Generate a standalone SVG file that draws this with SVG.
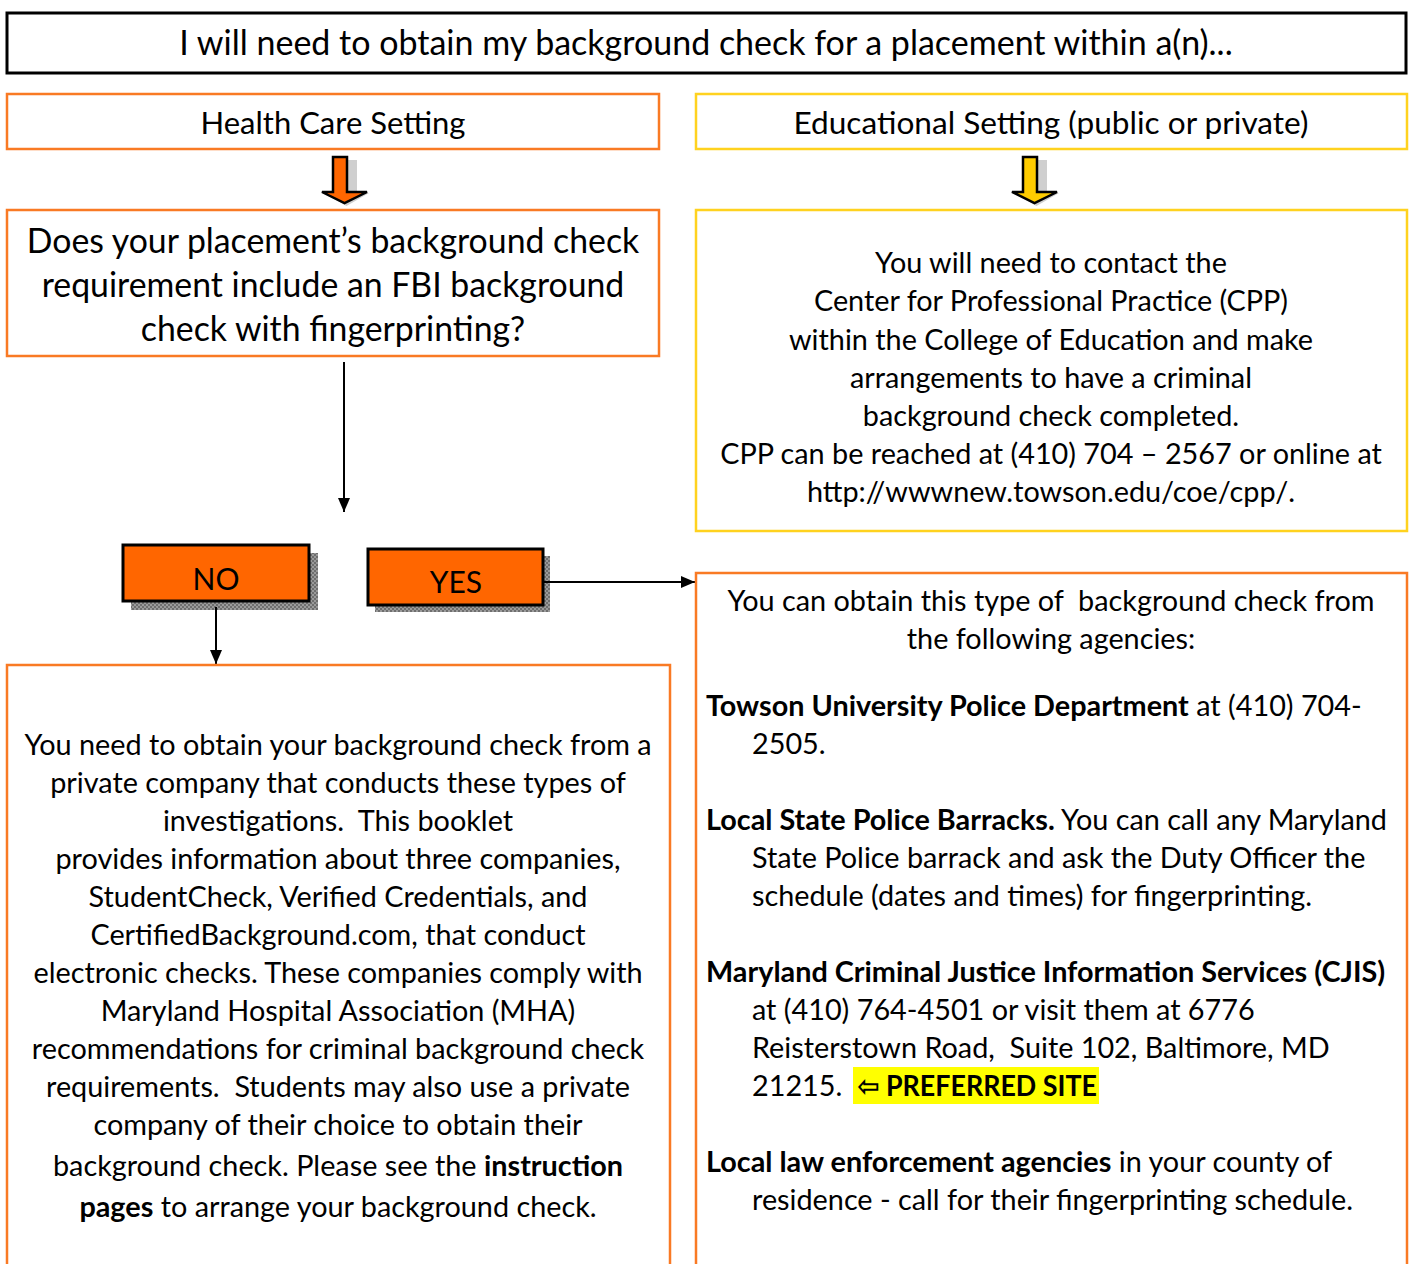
<svg xmlns="http://www.w3.org/2000/svg" width="1412" height="1264" viewBox="0 0 1412 1264">
<defs>
<style>
text{font-family:Lato,"Open Sans","DejaVu Sans",sans-serif;fill:#000;white-space:pre}
.c{text-anchor:middle}
.ob{fill:#fff;stroke:#F97A24;stroke-width:2.5}
.yb{fill:#fff;stroke:#FFD21F;stroke-width:2.5}
.t27{font-size:28.8px}
.b{font-weight:bold}
</style>
<pattern id="chk" width="4" height="4" patternUnits="userSpaceOnUse">
<rect width="4" height="4" fill="#9a9a9a"/>
<rect width="2" height="2" fill="#6e6e6e"/>
<rect x="2" y="2" width="2" height="2" fill="#6e6e6e"/>
</pattern>
<marker id="ah" markerWidth="14" markerHeight="14" refX="14" refY="7" orient="auto" markerUnits="userSpaceOnUse" viewBox="0 0 14 14">
<path d="M0,1 L14,7 L0,13 z" fill="#000"/>
</marker>
</defs>

<g id="title">
<rect x="7" y="13" width="1399" height="60" fill="#fff" stroke="#000" stroke-width="3"/>
<text x="706" y="55" class="c" font-size="34">I will need to obtain my background check for a placement within a(n)...</text>
</g>

<g id="health">
<rect x="7" y="94" width="652" height="55" class="ob"/>
<text x="333" y="134" class="c" font-size="31">Health Care Setting</text>
</g>

<g id="education">
<rect x="696" y="94" width="711" height="55" class="yb"/>
<text x="1051" y="134" class="c" font-size="31.6">Educational Setting (public or private)</text>
</g>

<g id="arrow-health">
<path d="M343,160 h14 v33 h12 l-22.5,13 l-22.5,-13 h12 z" fill="#cfcfcf"/>
<path d="M333,157 h14 v35 h20 l-22.5,11 l-22.5,-11 h11 z" fill="#FF6600" stroke="#000" stroke-width="2.5" stroke-linejoin="miter"/>
</g>

<g id="arrow-edu">
<path d="M1033,160 h14 v33 h12 l-22.5,13 l-22.5,-13 h12 z" fill="#cfcfcf"/>
<path d="M1023,157 h14 v35 h20 l-22.5,11 l-22.5,-11 h11 z" fill="#FFCC00" stroke="#000" stroke-width="2.5"/>
</g>

<g id="question">
<rect x="7" y="210" width="652" height="146" class="ob"/>
<text x="333" y="253" class="c" font-size="33.8">Does your placement’s background check</text>
<text x="333" y="297" class="c" font-size="33.8">requirement include an FBI background</text>
<text x="333" y="341" class="c" font-size="33.8">check with fingerprinting?</text>
</g>

<g id="cpp">
<rect x="696" y="210" width="711" height="321" class="yb"/>
<text class="c t27" x="1051" y="273">You will need to contact the</text>
<text class="c t27" x="1051" y="311">Center for Professional Practice (CPP)</text>
<text class="c t27" x="1051" y="350">within the College of Education and make</text>
<text class="c t27" x="1051" y="388">arrangements to have a criminal</text>
<text class="c t27" x="1051" y="426">background check completed.</text>
<text class="c t27" x="1051" y="464">CPP can be reached at (410) 704 – 2567 or online at</text>
<text class="c t27" x="1051" y="502">http://wwwnew.towson.edu/coe/cpp/.</text>
</g>

<g id="no">
<rect x="131" y="553" width="187" height="57" fill="url(#chk)"/>
<rect x="123" y="545" width="186" height="56" fill="#FF6600" stroke="#000" stroke-width="3"/>
<text x="216" y="590" class="c" font-size="30">NO</text>
</g>

<g id="yes">
<rect x="375" y="556" width="175" height="56" fill="url(#chk)"/>
<rect x="368" y="549" width="175" height="56" fill="#FF6600" stroke="#000" stroke-width="3"/>
<text x="456" y="593" class="c" font-size="30">YES</text>
</g>

<g id="connectors" stroke="#000" stroke-width="2" fill="none">
<line x1="344" y1="362" x2="344" y2="512" marker-end="url(#ah)"/>
<line x1="216" y1="607" x2="216" y2="664" marker-end="url(#ah)"/>
<line x1="544" y1="582" x2="695" y2="582" marker-end="url(#ah)"/>
</g>

<g id="private">
<rect x="7" y="665" width="663" height="620" class="ob"/>
<text class="c t27" x="338" y="755">You need to obtain your background check from a</text>
<text class="c t27" x="338" y="793">private company that conducts these types of</text>
<text class="c t27" x="338" y="831">investigations.  This booklet</text>
<text class="c t27" x="338" y="869">provides information about three companies,</text>
<text class="c t27" x="338" y="907">StudentCheck, Verified Credentials, and</text>
<text class="c t27" x="338" y="945">CertifiedBackground.com, that conduct</text>
<text class="c t27" x="338" y="983">electronic checks. These companies comply with</text>
<text class="c t27" x="338" y="1021">Maryland Hospital Association (MHA)</text>
<text class="c t27" x="338" y="1059">recommendations for criminal background check</text>
<text class="c t27" x="338" y="1097">requirements.  Students may also use a private</text>
<text class="c t27" x="338" y="1135">company of their choice to obtain their</text>
<text class="c t27" x="338" y="1176">background check. Please see the <tspan class="b">instruction</tspan></text>
<text class="c t27" x="338" y="1217"><tspan class="b">pages</tspan> to arrange your background check.</text>
</g>

<g id="agencies">
<rect x="696" y="573" width="711" height="712" class="ob"/>
<text class="c t27" x="1051" y="611">You can obtain this type of  background check from</text>
<text class="c t27" x="1051" y="649">the following agencies:</text>
<text class="t27" x="706" y="716"><tspan class="b">Towson University Police Department</tspan> at (410) 704-</text>
<text class="t27" x="752" y="754">2505.</text>
<text class="t27" x="706" y="830"><tspan class="b">Local State Police Barracks.</tspan> You can call any Maryland</text>
<text class="t27" x="752" y="868">State Police barrack and ask the Duty Officer the</text>
<text class="t27" x="752" y="906">schedule (dates and times) for fingerprinting.</text>
<text class="t27 b" x="706" y="982">Maryland Criminal Justice Information Services (CJIS)</text>
<text class="t27" x="752" y="1020">at (410) 764-4501 or visit them at 6776</text>
<text class="t27" x="752" y="1058">Reisterstown Road,  Suite 102, Baltimore, MD</text>
<rect x="853" y="1067" width="246" height="37" fill="#FFFF00"/>
<text class="t27" x="752" y="1096">21215.</text>
<text class="t27 b" x="857" y="1096" textLength="240" lengthAdjust="spacingAndGlyphs">⇦ PREFERRED SITE</text>
<text class="t27" x="706" y="1172"><tspan class="b">Local law enforcement agencies</tspan> in your county of</text>
<text class="t27" x="752" y="1210">residence - call for their fingerprinting schedule.</text>
</g>
</svg>
